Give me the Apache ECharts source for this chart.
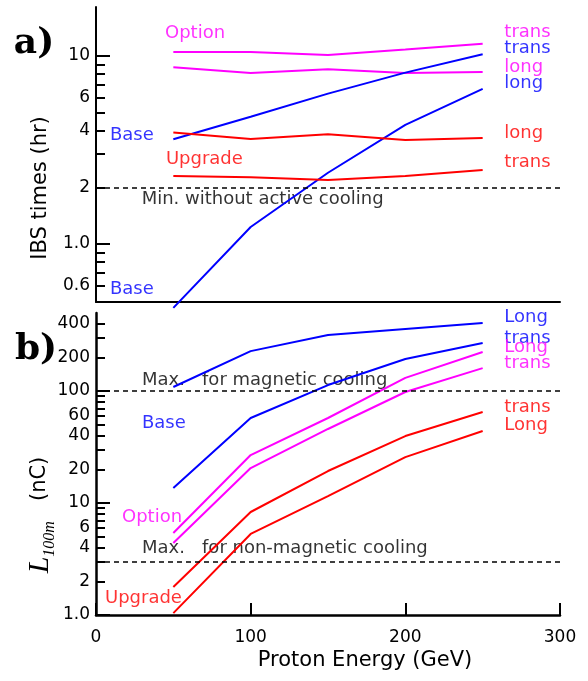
<!DOCTYPE html>
<html>
<head>
<meta charset="utf-8">
<title>IBS times / L100m</title>
<script src="https://cdn.jsdelivr.net/npm/echarts@6/dist/echarts.min.js"></script>
<style>
    html, body { margin: 0; padding: 0; background: #fff; }
    #main { width: 588px; height: 681px; }
</style>
</head>
<body>
<div id="main"></div>
<script type="text/javascript">

    // proton energy (GeV)
    var energy = [50, 100, 150, 200, 250];

    // a) IBS times (hr)
    var optionTrans  = [10.5, 10.5, 10.1, 10.8, 11.6];
    var optionLong   = [8.7, 8.1, 8.5, 8.1, 8.2];
    var baseTrans    = [3.6, 4.75, 6.3, 8.15, 10.2];
    var baseLong     = [0.457, 1.23, 2.39, 4.3, 6.67];
    var upgradeLong  = [3.91, 3.61, 3.83, 3.57, 3.66];
    var upgradeTrans = [2.30, 2.26, 2.19, 2.30, 2.47];
    var minNoCooling = 2;

    // b) L_100m (nC)
    var baseLongL     = [108.6, 227, 316, 358, 405];
    var baseTransL    = [13.6, 57.4, 113, 193, 268];
    var optionLongL   = [5.4, 26.8, 57.4, 131, 223];
    var optionTransL  = [4.39, 20.5, 45.8, 98, 160];
    var upgradeTransL = [1.78, 8.31, 19.3, 39.6, 64.9];
    var upgradeLongL  = [1.04, 5.29, 11.5, 25.7, 43.9];
    var maxMagnetic = 100;
    var maxNonMagnetic = 3;

    // axis ticks / labels
    var ibsTicks  = [0.6, 0.7, 0.8, 0.9, 1, 2, 3, 4, 5, 6, 7, 8, 9, 10];
    var ibsMajor  = [1, 10];
    var ibsLabels = [0.6, 1, 2, 4, 6, 10];
    var lTicks  = [1, 2, 3, 4, 5, 6, 7, 8, 9, 10, 20, 30, 40, 50, 60, 70, 80, 90, 100, 200, 300, 400];
    var lMajor  = [1, 10, 100];
    var lLabels = [1, 2, 4, 6, 10, 20, 40, 60, 100, 200, 400];
    var energyTicks = [0, 100, 200, 300];

    // text notes: [energy, value, text, colour]
    var notesA = [
        [44.6, 13.2, 'Option', '#ff00ff'],
        [9.0, 3.8, 'Base', '#0000ff'],
        [45.2, 2.83, 'Upgrade', '#ff0000'],
        [9.0, 0.576, 'Base', '#0000ff'],
        [29.5, 1.73, 'Min. without active cooling', '#000'],
        [264, 13.4, 'trans', '#ff00ff'],
        [264, 11.0, 'trans', '#0000ff'],
        [264, 8.74, 'long', '#ff00ff'],
        [264, 7.18, 'long', '#0000ff'],
        [264, 3.89, 'long', '#ff0000'],
        [264, 2.70, 'trans', '#ff0000']
    ];
    var notesB = [
        [29.7, 125, 'Max.   for magnetic cooling', '#000'],
        [29.7, 51.8, 'Base', '#0000ff'],
        [16.8, 7.5, 'Option', '#ff00ff'],
        [29.7, 3.97, 'Max.   for non-magnetic cooling', '#000'],
        [5.8, 1.42, 'Upgrade', '#ff0000'],
        [264, 458, 'Long', '#0000ff'],
        [264, 297, 'trans', '#0000ff'],
        [264, 247, 'Long', '#ff00ff'],
        [264, 178, 'trans', '#ff00ff'],
        [264, 72, 'trans', '#ff0000'],
        [264, 49.7, 'Long', '#ff0000']
    ];

    var FONT = 'DejaVu Sans';

    function pairs(ys) {
        return energy.map(function (e, i) { return [e, ys[i]]; });
    }
    function line(ys, color, g) {
        return {
            type: 'line', xAxisIndex: g, yAxisIndex: g * 2,
            data: pairs(ys), symbol: 'none', clip: false, silent: true,
            lineStyle: { color: color, width: 2 }
        };
    }
    function dashed(v, g) {
        return {
            type: 'line', xAxisIndex: g, yAxisIndex: g * 2, data: [], silent: true,
            markLine: {
                symbol: ['none', 'none'], silent: true, label: { show: false },
                lineStyle: { color: '#000', width: 1.5, type: [5, 4] },
                data: [{ yAxis: v }]
            }
        };
    }
    function notes(list, g) {
        return {
            type: 'scatter', xAxisIndex: g, yAxisIndex: g * 2, symbolSize: 0, silent: true,
            data: list.map(function (n) {
                return {
                    value: [n[0], n[1]], name: n[2],
                    label: { color: n[3] }
                };
            }),
            label: {
                show: true, position: 'right', distance: 0, formatter: '{b}',
                fontFamily: FONT, fontSize: 18, verticalAlign: 'middle'
            }
        };
    }
    function fmt(v) { return v === 1 ? '1.0' : String(v); }

    var labelStyle = { color: '#000', fontFamily: FONT, fontSize: 17 };

    function logAxis(g, min, max, ticks, labels, w) {
        return {
            gridIndex: g, type: 'log', logBase: 10, min: min, max: max, position: 'left',
            axisLine: { show: true, onZero: false, lineStyle: { color: '#000', width: w } },
            axisTick: { show: true, inside: true, length: 9, customValues: ticks,
                        lineStyle: { color: '#000', width: 2 } },
            axisLabel: Object.assign({ customValues: labels, formatter: fmt, margin: 6 }, labelStyle),
            splitLine: { show: false }
        };
    }
    function majorAxis(g, min, max, ticks) {
        return {
            gridIndex: g, type: 'log', logBase: 10, min: min, max: max, position: 'left',
            axisLine: { show: false },
            axisTick: { show: true, inside: true, length: 14, customValues: ticks,
                        lineStyle: { color: '#000', width: 2 } },
            axisLabel: { show: false },
            splitLine: { show: false }
        };
    }

    var myChart = echarts.init(document.getElementById('main'), null, { renderer: 'canvas' });

    var option = {
        animation: false,
        grid: [
            { left: 96, top: 7, width: 464, height: 295 },
            { left: 96, top: 313, width: 464, height: 302 }
        ],
        xAxis: [
            {
                gridIndex: 0, type: 'value', min: 0, max: 300,
                axisLine: { show: true, lineStyle: { color: '#000', width: 2 } },
                axisTick: { show: false }, axisLabel: { show: false }, splitLine: { show: false }
            },
            {
                gridIndex: 1, type: 'value', min: 0, max: 300, interval: 100,
                axisLine: { show: true, onZero: false, lineStyle: { color: '#000', width: 2.5 } },
                axisTick: { show: true, inside: true, length: 12, customValues: energyTicks,
                            lineStyle: { color: '#000', width: 2 } },
                axisLabel: Object.assign({ margin: 14 }, labelStyle),
                splitLine: { show: false }
            }
        ],
        yAxis: [
            logAxis(0, 0.491, 18.2, ibsTicks, ibsLabels, 2),
            majorAxis(0, 0.491, 18.2, ibsMajor),
            logAxis(1, 1, 497, lTicks, lLabels, 2.5),
            majorAxis(1, 1, 497, lMajor)
        ],
        graphic: [
            { type: 'text', x: 34, y: 44, silent: true,
              style: { text: 'a)', fontFamily: 'DejaVu Serif', fontWeight: 'bold', fontSize: 36,
                       fill: '#000', align: 'center', verticalAlign: 'middle' } },
            { type: 'text', x: 36, y: 350, silent: true,
              style: { text: 'b)', fontFamily: 'DejaVu Serif', fontWeight: 'bold', fontSize: 36,
                       fill: '#000', align: 'center', verticalAlign: 'middle' } },
            { type: 'text', x: 41, y: 188, rotation: Math.PI / 2, silent: true,
              style: { text: 'IBS times (hr)', fontFamily: FONT, fontSize: 21,
                       fill: '#000', align: 'center', verticalAlign: 'middle' } },
            { type: 'text', x: 40, y: 515, rotation: Math.PI / 2, silent: true,
              style: {
                  text: '{l|L}{s|100m}{n|   (nC)}', align: 'center', verticalAlign: 'middle',
                  rich: {
                      l: { fontFamily: 'Liberation Serif', fontStyle: 'italic', fontSize: 30, fill: '#000',
                           lineHeight: 36, verticalAlign: 'middle' },
                      s: { fontFamily: 'Liberation Serif', fontStyle: 'italic', fontSize: 16, fill: '#000',
                           lineHeight: 16, verticalAlign: 'bottom' },
                      n: { fontFamily: FONT, fontSize: 21, fill: '#000', lineHeight: 36, verticalAlign: 'middle' }
                  }
              } },
            { type: 'text', x: 365, y: 661, silent: true,
              style: { text: 'Proton Energy (GeV)', fontFamily: FONT, fontSize: 21,
                       fill: '#000', align: 'center', verticalAlign: 'middle' } }
        ],
        series: [
            line(optionTrans, '#ff00ff', 0),
            line(optionLong, '#ff00ff', 0),
            line(baseTrans, '#0000ff', 0),
            line(baseLong, '#0000ff', 0),
            line(upgradeLong, '#ff0000', 0),
            line(upgradeTrans, '#ff0000', 0),
            dashed(minNoCooling, 0),
            notes(notesA, 0),
            line(baseLongL, '#0000ff', 1),
            line(baseTransL, '#0000ff', 1),
            line(optionLongL, '#ff00ff', 1),
            line(optionTransL, '#ff00ff', 1),
            line(upgradeTransL, '#ff0000', 1),
            line(upgradeLongL, '#ff0000', 1),
            dashed(maxMagnetic, 1),
            dashed(maxNonMagnetic, 1),
            notes(notesB, 1)
        ]
    };

    myChart.setOption(option);

</script>
</body>
</html>
